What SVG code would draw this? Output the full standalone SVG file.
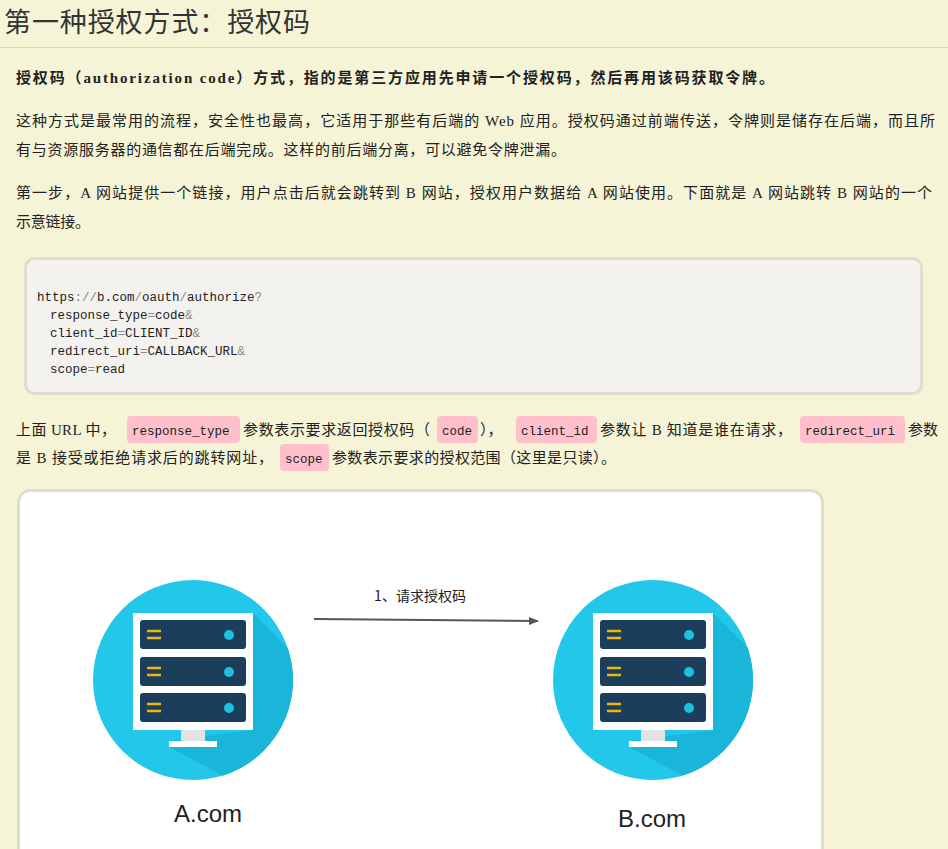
<svg xmlns="http://www.w3.org/2000/svg" width="948" height="849" viewBox="0 0 948 849">
<defs>
<style>
.t{font-family:"Liberation Serif","Noto Sans CJK SC",serif;font-size:15px;fill:#222}
.m{font-family:"Liberation Mono","Noto Sans CJK SC",monospace;font-size:12.5px;fill:#222}
.p{fill:#888}
.tag{fill:#ffc0cb}
.bar{fill:#1a3e5c}
.ln{stroke:#f2b705;stroke-width:2.5}
.dot{fill:#1ec0e0}
</style>
<clipPath id="cc"><circle cx="0" cy="0" r="100"/></clipPath>
<marker id="ah" viewBox="0 0 10 10" refX="9" refY="5" markerWidth="5" markerHeight="5" orient="auto"><path d="M0,1 L10,5 L0,9 Z" fill="#555"/></marker>
<g id="srv">
<circle cx="0" cy="0" r="100" fill="#22c7ea"/>
<path d="M60,-67 L160,33 L100,133 L-24,67 L-24,61 L60,50 Z" fill="#19b6da" clip-path="url(#cc)"/>
<rect x="-60" y="-67" width="120" height="117" fill="#fff"/>
<rect x="-12" y="50" width="24" height="12" fill="#e3e3e3"/>
<rect x="-24" y="61" width="48" height="6" fill="#fff"/>
<rect class="bar" x="-53" y="-60" width="106" height="29" rx="3"/>
<rect class="bar" x="-53" y="-23" width="106" height="29" rx="3"/>
<rect class="bar" x="-53" y="13" width="106" height="29" rx="3"/>
<path class="ln" d="M-46,-49 h14 M-46,-42 h14 M-46,-12 h14 M-46,-5 h14 M-46,24 h14 M-46,31 h14"/>
<circle class="dot" cx="36" cy="-45" r="5"/><circle class="dot" cx="36" cy="-8" r="5"/><circle class="dot" cx="36" cy="28" r="5"/>
</g>
</defs>
<rect width="948" height="849" fill="#f5f4d6"/>
<text x="4" y="32" font-family="Liberation Serif,'Noto Sans CJK SC',serif" font-size="27" fill="#333" textLength="306">第一种授权方式：授权码</text>
<line x1="0" y1="47.5" x2="948" y2="47.5" stroke="#d6d6c8" stroke-width="1"/>
<text class="t" x="16" y="83" font-weight="bold" fill="#111" textLength="758">授权码（authorization code）方式，指的是第三方应用先申请一个授权码，然后再用该码获取令牌。</text>
<text class="t" x="16" y="126" textLength="919">这种方式是最常用的流程，安全性也最高，它适用于那些有后端的 Web 应用。授权码通过前端传送，令牌则是储存在后端，而且所</text>
<text class="t" x="16" y="155" textLength="550">有与资源服务器的通信都在后端完成。这样的前后端分离，可以避免令牌泄漏。</text>
<text class="t" x="16" y="198" textLength="916">第一步，A 网站提供一个链接，用户点击后就会跳转到 B 网站，授权用户数据给 A 网站使用。下面就是 A 网站跳转 B 网站的一个</text>
<text class="t" x="16" y="227" textLength="74">示意链接。</text>
<g id="code">
<rect x="25.5" y="258.5" width="896" height="135" rx="9" fill="#f4f2ee" stroke="#deded0" stroke-width="3"/>
<text class="m" x="37" y="301">https<tspan class="p">://</tspan>b.com<tspan class="p">/</tspan>oauth<tspan class="p">/</tspan>authorize<tspan class="p">?</tspan></text>
<text class="m" x="50" y="319">response_type<tspan class="p">=</tspan>code<tspan class="p">&amp;</tspan></text>
<text class="m" x="50" y="337">client_id<tspan class="p">=</tspan>CLIENT_ID<tspan class="p">&amp;</tspan></text>
<text class="m" x="50" y="355">redirect_uri<tspan class="p">=</tspan>CALLBACK_URL<tspan class="p">&amp;</tspan></text>
<text class="m" x="50" y="373">scope<tspan class="p">=</tspan>read</text>
</g>
<rect class="tag" x="127" y="416" width="113" height="27" rx="4"/>
<rect class="tag" x="437" y="416" width="41" height="27" rx="4"/>
<rect class="tag" x="516" y="416" width="81" height="27" rx="4"/>
<rect class="tag" x="800" y="416" width="105" height="27" rx="4"/>
<rect class="tag" x="280" y="444" width="49" height="27" rx="4"/>
<text class="t" x="16" y="435" textLength="100">上面 URL 中，</text>
<text class="m" x="132" y="435">response_type</text>
<text class="t" x="243" y="435" textLength="187">参数表示要求返回授权码（</text>
<text class="m" x="442" y="435">code</text>
<text class="t" x="480" y="435">），</text>
<text class="m" x="521" y="435">client_id</text>
<text class="t" x="600" y="435" textLength="192">参数让 B 知道是谁在请求，</text>
<text class="m" x="805" y="435">redirect_uri</text>
<text class="t" x="908" y="435">参数</text>
<text class="t" x="16" y="463" textLength="257">是 B 接受或拒绝请求后的跳转网址，</text>
<text class="m" x="285" y="463">scope</text>
<text class="t" x="332" y="463" textLength="284">参数表示要求的授权范围（这里是只读）。</text>
<rect x="18.5" y="490.5" width="804" height="380" rx="12" fill="#fff" stroke="#dedfcb" stroke-width="3"/>
<g id="nodeA"><use href="#srv" x="193" y="680"/><text x="208" y="822" text-anchor="middle" font-family="Liberation Sans,sans-serif" font-size="24" fill="#222">A.com</text></g>
<g id="nodeB"><use href="#srv" x="653" y="680"/><text x="652" y="827" text-anchor="middle" font-family="Liberation Sans,sans-serif" font-size="24" fill="#222">B.com</text></g>
<g id="connectors">
<line x1="314" y1="619" x2="538" y2="621" stroke="#555" stroke-width="2" marker-end="url(#ah)"/>
<text x="420" y="601" text-anchor="middle" font-family="Noto Sans CJK SC,sans-serif" font-size="14" fill="#222">1、请求授权码</text>
</g>
</svg>
